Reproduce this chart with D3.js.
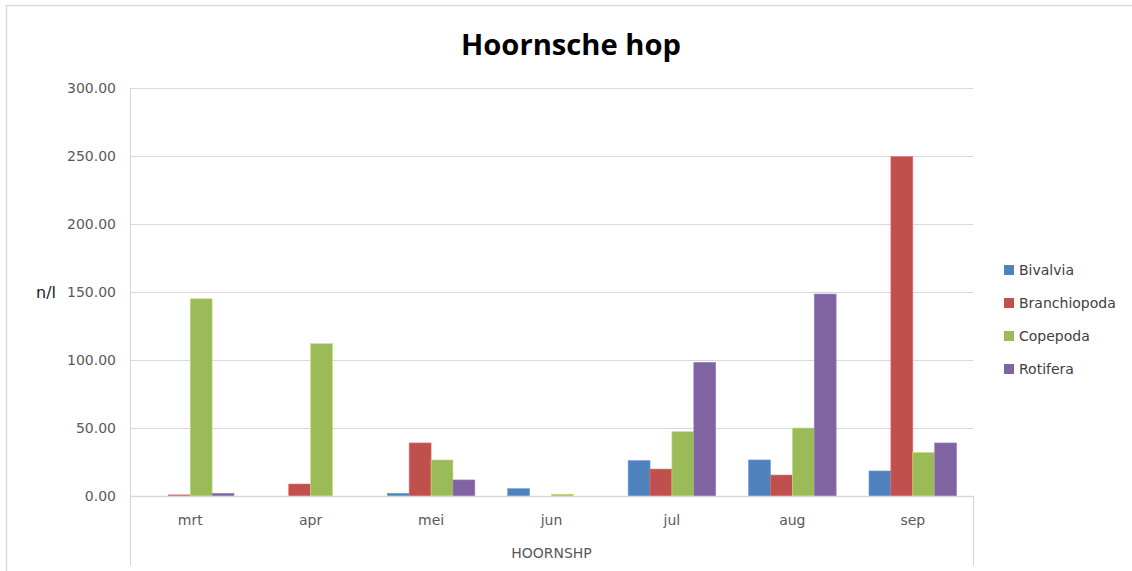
<!DOCTYPE html>
<html><head><meta charset="utf-8">
<script src="https://cdn.jsdelivr.net/npm/d3@7"></script>
<style>body{margin:0;background:#fff}svg{display:block}</style>
</head><body>
<svg id="c" width="1132" height="571"></svg>
<script>
const categories = ["mrt","apr","mei","jun","jul","aug","sep"];
const seriesNames = ["Bivalvia","Branchiopoda","Copepoda","Rotifera"];
const bivalvia     = [0, 0, 2, 5.4, 26, 26.5, 18.4];
const branchiopoda = [0.8, 8.8, 39, 0, 19.8, 15.4, 249.5];
const copepoda     = [145, 112, 26.5, 1.3, 47.3, 50, 32];
const rotifera     = [2, 0, 11.8, 0, 98.3, 148.5, 39];
const yTicks = [0,50,100,150,200,250,300];
const colors = ["#4F81BD","#C0504D","#9BBB59","#8064A2"];
const seriesValues = [bivalvia, branchiopoda, copepoda, rotifera];

const svg = d3.select("#c");
const font = "'DejaVu Sans', Verdana, sans-serif";
const tfont = "'Open Sans', 'Liberation Sans', Arial, sans-serif";
const L = 130, R = 973, T = 88, B = 496;

svg.append("rect").attr("x",6.5).attr("y",5.5).attr("width",1140).attr("height",580)
  .attr("fill","#fff").attr("stroke","#d9d9d9").attr("stroke-width",1.5);

const y = d3.scaleLinear().domain([0,300]).range([B,T]);
const x0 = d3.scaleBand().domain(categories).range([L,R]).paddingInner(0).paddingOuter(0);
const x1 = d3.scaleBand().domain(seriesNames).range([0,x0.bandwidth()]).paddingInner(0).paddingOuter(0.75);

// gridlines
svg.append("g").selectAll("line").data(yTicks.slice(1)).join("line")
  .attr("x1",L).attr("x2",R).attr("y1",d=>Math.round(y(d))+0.5).attr("y2",d=>Math.round(y(d))+0.5)
  .attr("stroke","#d9d9d9").attr("stroke-width",1.2);

// y axis tick labels
svg.append("g").selectAll("text").data(yTicks).join("text")
  .attr("x",116).attr("y",d=>y(d)+5).attr("text-anchor","end")
  .attr("font-family",font).attr("font-size",14).attr("fill","#595959")
  .text(d=>d3.format(".2f")(d));

svg.append("text").attr("x",46).attr("y",298).attr("text-anchor","middle")
  .attr("font-family",font).attr("font-size",16).attr("fill","#1a1a1a").text("n/l");

// bars
const g = svg.append("g");
seriesNames.forEach((s,si)=>{
  g.append("g").selectAll("rect").data(categories).join("rect")
    .attr("x",(c)=>x0(c)+x1(s))
    .attr("width",x1.bandwidth())
    .attr("y",(c,i)=>y(seriesValues[si][i]))
    .attr("height",(c,i)=>B-y(seriesValues[si][i]))
    .attr("fill",colors[si])
    .attr("stroke",d3.color(colors[si]).brighter(0.6))
    .attr("stroke-width",0.6);
});

// axes lines
svg.append("line").attr("x1",L).attr("x2",R).attr("y1",B+0.5).attr("y2",B+0.5)
  .attr("stroke","#d9d9d9").attr("stroke-width",1.5);
svg.append("line").attr("x1",L+0.5).attr("x2",L+0.5).attr("y1",T).attr("y2",566)
  .attr("stroke","#d9d9d9").attr("stroke-width",1.2);
svg.append("line").attr("x1",R+0.5).attr("x2",R+0.5).attr("y1",B).attr("y2",566)
  .attr("stroke","#d9d9d9").attr("stroke-width",1.2);

// category labels
svg.append("g").selectAll("text").data(categories).join("text")
  .attr("x",c=>x0(c)+x0.bandwidth()/2).attr("y",525).attr("text-anchor","middle")
  .attr("font-family",font).attr("font-size",14).attr("fill","#595959").text(d=>d);

svg.append("text").attr("x",(L+R)/2).attr("y",558).attr("text-anchor","middle")
  .attr("font-family",font).attr("font-size",14).attr("fill","#595959").text("HOORNSHP");

// title
svg.append("text").attr("x",571).attr("y",55).attr("text-anchor","middle")
  .attr("font-family",tfont).attr("font-size",28).attr("font-weight","bold").attr("fill","#000")
  .attr("textLength",220).attr("lengthAdjust","spacingAndGlyphs").text("Hoornsche hop");

// legend
const lg = svg.append("g");
seriesNames.forEach((s,i)=>{
  const yy = 270 + i*33;
  lg.append("rect").attr("x",1004).attr("y",yy-5).attr("width",10).attr("height",10).attr("fill",colors[i]);
  lg.append("text").attr("x",1019).attr("y",yy+5).attr("font-family",font).attr("font-size",14)
    .attr("fill","#404040").text(s);
});
</script>
</body></html>
